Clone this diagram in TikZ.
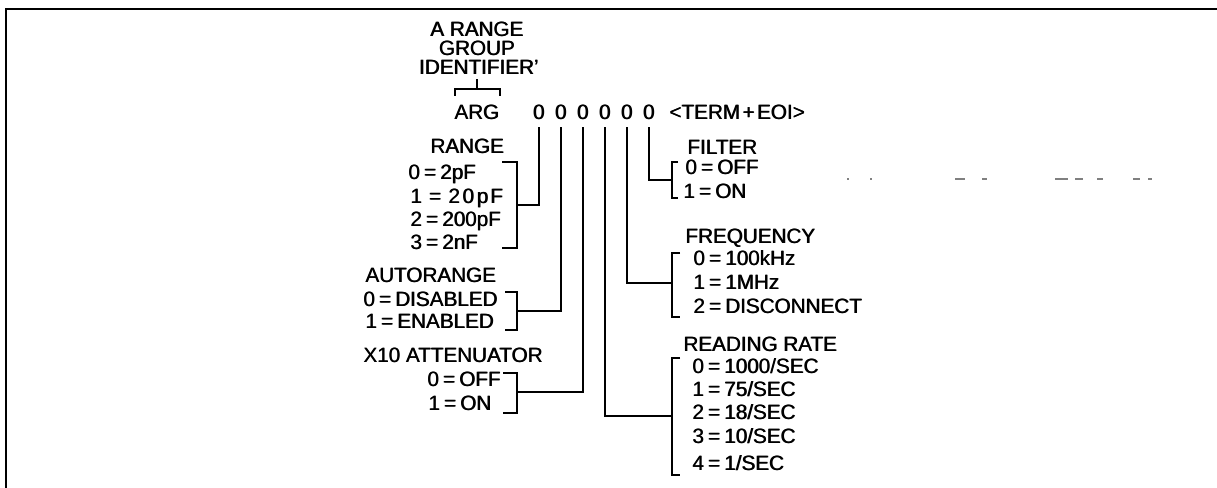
\documentclass[tikz,border=0pt]{standalone}
\usepackage{fontspec}
\setmainfont{Liberation Sans}
\newcommand{\eqs}{\hspace{0.2em}=\hspace{0.2em}}
\newcommand{\hv}[1]{\rlap{#1}\kern0.5pt#1}
\begin{document}
\begin{tikzpicture}[x=0.75pt,y=-0.75pt,
  lbl/.style={font=\fontsize{15.5}{17}\selectfont, inner sep=0pt, anchor=base west},
  ctr/.style={font=\fontsize{15.5}{17}\selectfont, inner sep=0pt, anchor=base},
  wire/.style={line width=1.5pt, line cap=rect},
  brk/.style={line width=1.5pt},
  frame/.style={line width=2.2pt},
  speck/.style={line width=1pt, gray}]
\useasboundingbox (0,0) rectangle (1217,488);
% frame
\coordinate (ftl) at (6,9);
\coordinate (ftr) at (1217,9);
\coordinate (fbl) at (6,488);
\draw[frame] (ftr) -- (ftl) -- (fbl);

% top identifier
\node[ctr] (t1) at (477,37) {\hv{A RANGE}};
\node[ctr] (t2) at (477,56) {\hv{GROUP}};
\node[ctr] (t3) at (479,75) {\hv{IDENTIFIER'}};
\node[ctr] (arg) at (477,120) {\hv{ARG}};
\coordinate (bm) at (477,89);
\draw[brk] ([yshift=-3pt]t3.south -| bm) -- (bm);
\draw[brk] (455,96) -- (455,89) -- (500,89) -- (500,96);

% zeros
\node[ctr] (z1) at (539,120) {\hv{0}};
\node[ctr] (z2) at (561,120) {\hv{0}};
\node[ctr] (z3) at (583,120) {\hv{0}};
\node[ctr] (z4) at (605,120) {\hv{0}};
\node[ctr] (z5) at (627,120) {\hv{0}};
\node[ctr] (z6) at (649,120) {\hv{0}};
\node[lbl] (term) at (669,120) {\hv{<TERM\hspace{0.12em}+\hspace{0.12em}EOI>}};

% RANGE group
\node[lbl] (rh) at (430,154) {\hv{RANGE}};
\node[lbl] (r0) at (408,180) {\hv{0\eqs 2pF}};
\node[lbl] (r1) at (410,204) {\hv{1\hspace{0.35em}=\hspace{0.35em}2\kern2pt0\kern2pt p\kern1.5pt F}};
\node[lbl] (r2) at (410,227) {\hv{2\eqs 200pF}};
\node[lbl] (r3) at (410,250) {\hv{3\eqs 2nF}};
\draw[brk] (502,162) -- (517,162) -- (517,248) -- (502,248);
\coordinate (rb) at (517,205);
\draw[wire] ([yshift=-6pt]z1.south) |- (rb);

% AUTORANGE group
\node[lbl] (ah) at (365,282) {\hv{AUTORANGE}};
\node[lbl] (a0) at (363,306) {\hv{0\eqs DISABLED}};
\node[lbl] (a1) at (365,329) {\hv{1\eqs ENABLED}};
\draw[brk] (505,292) -- (517,292) -- (517,330) -- (505,330);
\coordinate (ab) at (517,311);
\draw[wire] ([yshift=-6pt]z2.south) |- (ab);

% X10 ATTENUATOR group
\node[lbl] (xh) at (363,362) {\hv{X10 ATTENUATOR}};
\node[lbl] (x0) at (427,386) {\hv{0\eqs OFF}};
\node[lbl] (x1) at (428,410) {\hv{1\eqs ON}};
\draw[brk] (503,373) -- (517,373) -- (517,413) -- (503,413);
\coordinate (xb) at (517,392);
\draw[wire] ([yshift=-6pt]z3.south) |- (xb);

% FILTER group
\node[lbl] (fh) at (687,155) {\hv{FILTER}};
\node[lbl] (f0) at (685,175) {\hv{0\eqs OFF}};
\node[lbl] (f1) at (683,199) {\hv{1\eqs ON}};
\draw[brk] (678,162) -- (672,162) -- (672,198) -- (678,198);
\coordinate (fb) at (672,180);
\draw[wire] ([yshift=-6pt]z6.south) |- (fb);

% FREQUENCY group
\node[lbl] (qh) at (685,244) {\hv{FREQUENCY}};
\node[lbl] (q0) at (693,266) {\hv{0\eqs 100kHz}};
\node[lbl] (q1) at (693,290) {\hv{1\eqs 1MHz}};
\node[lbl] (q2) at (693,313) {\hv{2\eqs DISCONNECT}};
\draw[brk] (680,253) -- (672,253) -- (672,317) -- (680,317);
\coordinate (qb) at (672,283);
\draw[wire] ([yshift=-6pt]z5.south) |- (qb);

% READING RATE group
\node[lbl] (dh) at (683,351) {\hv{READING RATE}};
\node[lbl] (d0) at (692,373) {\hv{0\eqs 1000/SEC}};
\node[lbl] (d1) at (692,396) {\hv{1\eqs 75/SEC}};
\node[lbl] (d2) at (692,419) {\hv{2\eqs 18/SEC}};
\node[lbl] (d3) at (692,443) {\hv{3\eqs 10/SEC}};
\node[lbl] (d4) at (692,470) {\hv{4\eqs 1/SEC}};
\draw[brk] (680,358) -- (672,358) -- (672,475) -- (680,475);
\coordinate (db) at (672,416);
\draw[wire] ([yshift=-6pt]z4.south) |- (db);

% faint scan specks to the right of FILTER
\foreach \a/\b in {847/849,870/872,955/965,982/987,1055/1068,1075/1083,1097/1103,1133/1140,1148/1152}
  \draw[speck] (\a,179) -- (\b,179);
\end{tikzpicture}
\end{document}
